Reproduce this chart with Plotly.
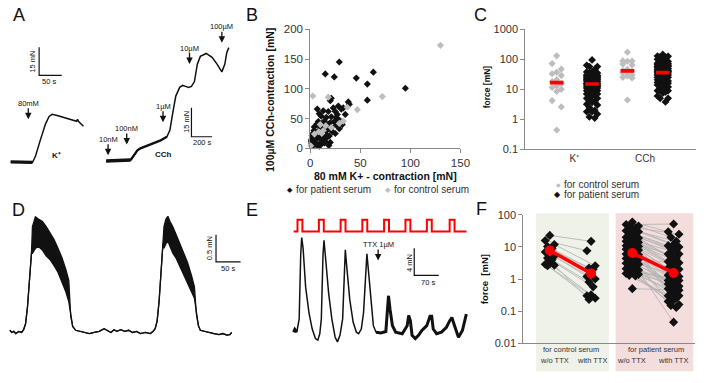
import numpy as np
import plotly.graph_objects as go

W, H = 708, 383
FONT = "Liberation Sans, Arial, Helvetica, sans-serif"
AXC = "#8a8a8a"
TXC = "#333333"
GRAY = "#bdbdbd"
RED = "#ff0000"
BLACK = "#111111"

# ======================= DATA =======================
# --- A: isometric force traces (time [s], force [mN]) ---
a_k_t = [17, 65, 67, 72, 83, 94, 102, 109, 120, 141, 163, 165, 167, 178]
a_k_f = [4.7, 4.4, 5.2, 7.8, 16.6, 24.9, 29.0, 30.1, 29.5, 28.0, 26.4, 27.5, 26.4, 23.8]
a_cch_t = [48, 286, 314, 352, 381, 476, 571, 638, 667, 695, 724, 762, 790, 819, 848,
           876, 905, 933, 962, 1019, 1076, 1124, 1171, 1200, 1219, 1238]
a_cch_f = [5, 5.5, 7.5, 10.5, 11.5, 13.5, 15.5, 17.5, 21, 30, 38.5, 43, 44, 43.5, 43,
           43.5, 46, 55, 59, 60.5, 58.5, 55, 51, 55, 61, 63.5]
a_k_dose = ["80mM"]
a_k_dose_t = [56]
a_k_dose_f = [27.5]
a_cch_dose = ["10nM", "100nM", "1µM", "10µM", "100µM"]
a_cch_dose_t = [67, 248, 600, 857, 1171]
a_cch_dose_f = [8, 13.5, 25, 55, 66]

# --- B / C: contraction amplitudes [mN] (80 mM K+, 100 µM CCh) ---
pat_k = [29, 15, 24, 46, 63, 57, 57, 95, 38, 39, 35, 33, 28, 20, 21, 13, 7, 9, 11, 31,
         23, 18, 25, 16, 21, 26, 28, 30, 24, 20, 32, 29, 26, 18, 21, 6.6, 4, 10, 3.7, 8.5,
         12.7, 15, 10, 5, 1.8, 6.6, 11.4, 16, 1.2, 5, 10, 15, 20, 3, 11, 18.5, 1.1, 1.8, 13.5, 17,
         8, 12, 14, 22, 25, 7, 9, 1.5, 2, 13, 4.5, 6, 9, 19, 27, 16, 12, 3.2, 2.5, 14]
pat_cch = [145, 125, 120, 118, 128, 108, 81, 101, 78, 74, 57, 68, 71, 80, 84, 63, 66, 58, 54, 66,
           68, 62, 62, 52, 53, 52, 49, 46, 45, 43, 40, 33, 39, 41, 35, 41, 36, 36, 30, 30,
           30, 25, 23, 23, 17, 16, 16, 17, 11, 9, 9, 11, 10, 5, 7.5, 5, 14, 22, 35, 31,
           45, 40, 46, 28, 25, 19, 27, 8, 12, 19, 14, 6, 3.8, 21, 57, 36, 14, 26, 19, 9]
ctl_k = [130, 72, 47, 37, 33, 29, 21, 18, 15.5, 13, 11.5, 10, 8.5, 4.2, 2.6, 0.44]
ctl_cch = [173, 87, 65, 69, 46, 42, 35, 86, 38, 30, 25, 40, 28, 24, 88, 4.4]
c_categories = ["K⁺", "CCh"]

# --- D: spontaneous contractions (time [s], force [mN]; upper/lower envelope) ---
d_t = [14, 18, 22, 26, 32, 38, 42, 46, 50, 54, 58, 60, 66, 72, 80, 88, 96, 104, 112, 120,
       128, 134, 138, 142, 148, 156, 166, 176, 186, 196, 206, 212, 220, 226, 232, 240, 248, 256, 264, 272,
       280, 290, 300, 306, 310, 314, 318, 322, 326, 328, 332, 336, 340, 346, 352, 360, 368, 376, 384, 390,
       394, 398, 402, 410, 420, 430, 440, 448, 456, 462, 466]
d_upper = [0.04, 0, 0.02, -0.02, 0.02, 0, 0.05, 0.16, 0.48, 0.93, 1.46,
           1.95, 2.13, 2.09, 2.05, 1.95, 1.84, 1.71, 1.55, 1.38, 1.16, 0.96,
           0.30, 0.11, 0.04, 0.02, 0, -0.02, 0, 0.02, 0.07, 0.04, 0, 0.05, 0.02, 0.05, 0.02, 0.04,
           0, 0.02, -0.02, 0, -0.02, 0.02, 0.07, 0.21,
           0.57, 1.11, 1.64,
           1.95, 2.09, 2.14, 2.05, 1.95, 1.82, 1.64, 1.46, 1.29, 1.05, 0.84,
           0.34, 0.13, 0.04, 0.02, 0, -0.02, -0.04, -0.02, -0.05, -0.04, 0]
d_lower = [0.04, 0, 0.02, -0.02, 0.02, 0, 0.05, 0.16, 0.48, 0.93, 1.46,
           1.46, 1.55, 1.59, 1.52, 1.41, 1.34, 1.23, 1.11, 0.93, 0.75, 0.57,
           0.30, 0.11, 0.04, 0.02, 0, -0.02, 0, 0.02, 0.07, 0.04, 0, 0.05, 0.02, 0.05, 0.02, 0.04,
           0, 0.02, -0.02, 0, -0.02, 0.02, 0.07, 0.21,
           0.57, 1.11, 1.64,
           1.55, 1.64, 1.68, 1.59, 1.46, 1.38, 1.23, 1.05, 0.93, 0.75, 0.63,
           0.34, 0.13, 0.04, 0.02, 0, -0.02, -0.04, -0.02, -0.05, -0.04, 0]

# --- E: EFS-evoked contractions, TTX added (time [s], force [mN]) ---
e_t = [44.8, 48.4, 54, 60.8, 65.2, 68, 72, 79.2, 88.8, 98, 107.2, 114, 119.6, 124, 128.8, 131.6,
       135.2, 144.8, 154, 163.2, 170, 177.2, 184.8, 189.6, 192.4, 196, 205.2, 214.8, 224, 230.4,
       238, 244.4, 250, 254, 258.4, 266, 272.4, 280, 294, 308, 310.8, 315.6, 320, 326.8, 336,
       354.8, 368.8, 373.2, 378, 382.8, 392, 401.2, 410.8, 424.8, 434, 438.8, 443.2, 452.8,
       466.8, 480.8, 490, 496.4, 504, 515.2, 526.4, 537.6]
e_f = [0.04, 0.43, 0.04, 2.0, 11.5, 14.0, 12.4, 6.7, 2.9, 0.5, -0.9, -1.14, -0.19, 2.0, 11.5, 13.6,
       11.5, 5.8, 2.0, -0.67, -1.39, -0.43, 2.0, 9.1, 12.2, 10.0, 4.8, 1.5, 0.04, -0.19,
       0.5, 2.9, 9.1, 11.6, 9.1, 4.3, 1.0, 0.04, -0.07, 0.14, 2.0, 5.4, 3.4, 1.0, 0.04,
       -0.19, 1.0, 2.5, 1.7, -0.43, -0.9, -0.43, 0.29, 1.0, 2.4, 2.4, 0.5, -0.19,
       0.04, 0.76, 1.7, 2.2, 1.0, -0.71, 0.29, 2.7]
e_ttx_t = 286
e_ttx_f = 10.6
e_stim_on = [56, 117, 179, 241, 303, 364, 425, 490]
e_stim_width = 14
e_stim_start, e_stim_end = 45, 538

# --- F: EFS force [mN] without / with TTX ---
f_ctl_wo = [23, 16, 12, 10.3, 9, 8, 7, 5.2, 4.5, 4, 3, 2.9, 2.7, 2.6]
f_ctl_with = [15, 7.6, 2.6, 2.2, 1.4, 2.0, 1.0, 1.2, 0.57, 0.8, 0.32, 0.25, 0.23, 0.3]
f_pat_wo = [60, 50, 45, 42, 40, 35, 32, 30, 28, 25, 22, 20, 19, 18, 17, 16, 15, 14, 13, 12,
            11.5, 11, 10.5, 10, 9.5, 9, 8.5, 8, 7.5, 7, 6.5, 6, 5.7, 5.4, 5, 4.7, 4.4, 4.1, 3.8, 3.5,
            3.3, 3.1, 2.9, 2.7, 2.5, 2.3, 2.1, 1.9, 1.8, 1.7, 1.6, 1.5, 1.4, 1.3, 1.25, 0.5]
f_pat_with = [30, 52, 20, 12, 25, 10, 8, 15, 6, 11, 9, 5, 3.2, 7, 4.5, 2.5, 6, 3.5, 2, 4,
              1.8, 1.2, 3, 0.9, 1.5, 0.7, 2.2, 1.0, 0.6, 0.5, 1.3, 0.8, 0.4, 2.8, 0.35, 1.1, 0.3, 0.25, 0.6, 0.2,
              0.9, 0.15, 1.4, 0.5, 0.045, 0.7, 0.3, 0.8, 0.13, 1.0, 0.4, 0.22, 0.6, 0.28, 0.16, 0.45]
f_ctl_mean = [7.8, 1.5]
f_pat_mean = [6.5, 1.55]
f_groups = ["for control serum", "for patient serum"]
f_conditions = ["w/o TTX", "with TTX"]

# scale bars: (x anchor, y anchor, x length, y length, x label, y label)
a_k_bar = (80, 51, 50, 15, "50 s", "15 mN")
a_cch_bar = (876, 17.5, 200, 15, "200 s", "15 mN")
d_bar = (434, 1.30, 50, 0.5, "50 s", "0.5 mN")
e_bar = (389, 8.43, 70, 4, "70 s", "4 mN")

# ======================= HELPERS =======================
def fx(px):
    return px / W


def fy(py):
    return 1 - py / H


def spread(vals, width, pattern=(0.0, -1.0, 1.0, -0.5, 0.5)):
    order = np.argsort(vals)[::-1]
    off = np.zeros(len(vals))
    for rank, idx in enumerate(order):
        off[idx] = pattern[rank % len(pattern)] * width
    return off


fig = go.Figure()


def line(x, y, ax, color=BLACK, width=1.4, **kw):
    fig.add_trace(go.Scatter(x=x, y=y, xaxis="x" + ax, yaxis="y" + ax, mode="lines",
                             line=dict(color=color, width=width), hoverinfo="skip",
                             showlegend=False, **kw))


def bar(b, ax):
    x0, y0, lx, ly, _, _ = b
    line([x0, x0, x0 + lx], [y0 + ly, y0, y0], ax, width=1.2)


# ---- A ----
line(a_k_t, a_k_f, "4", width=1.5)
line(a_k_t[:2], a_k_f[:2], "4", width=3.2)
line(a_cch_t, a_cch_f, "5", width=1.5)
line(a_cch_t[:2], a_cch_f[:2], "5", width=3.4)
line(a_cch_t[1:8], a_cch_f[1:8], "5", width=2.3)
bar(a_k_bar, "4")
bar(a_cch_bar, "5")

# ---- B ----
fig.add_trace(go.Scatter(x=pat_k, y=pat_cch, mode="markers", xaxis="x", yaxis="y",
                         marker=dict(symbol="diamond", size=5.5, color=BLACK),
                         cliponaxis=False, showlegend=False, name="for patient serum"))
fig.add_trace(go.Scatter(x=ctl_k, y=ctl_cch, mode="markers", xaxis="x", yaxis="y",
                         marker=dict(symbol="diamond", size=5.5, color=GRAY),
                         cliponaxis=False, showlegend=False, name="for control serum"))

# ---- C ----
c_sets = [(1, ctl_k, GRAY, 5.5, 0.13, (0.0, -1.0, 1.0)),
          (2, pat_k, BLACK, 6, 0.15, (0.0, -1.0, 1.0, -0.5, 0.5)),
          (3, ctl_cch, GRAY, 5.5, 0.13, (0.0, -1.0, 1.0)),
          (4, pat_cch, BLACK, 6, 0.15, (0.0, -1.0, 1.0, -0.5, 0.5))]
for pos, vals, col, sz, wd, pat in c_sets:
    xs = pos + spread(vals, wd, pat)
    fig.add_trace(go.Scatter(x=xs, y=vals, mode="markers", xaxis="x2", yaxis="y2",
                             marker=dict(symbol="diamond", size=sz, color=col),
                             cliponaxis=False, showlegend=False))
for pos, vals, *_ in c_sets:
    m = float(np.median(vals))
    line([pos - 0.19, pos + 0.19], [m, m], "2", color=RED, width=3.6)

# ---- D ----
line(d_t, d_lower, "6", width=1.3)
fig.add_trace(go.Scatter(x=d_t, y=d_upper, xaxis="x6", yaxis="y6", mode="lines",
                         line=dict(color=BLACK, width=1.3), fill="tonexty",
                         fillcolor=BLACK, hoverinfo="skip", showlegend=False))
bar(d_bar, "6")

# ---- E ----
sx, sy = [e_stim_start], [0]
for on in e_stim_on:
    sx += [on, on, on + e_stim_width, on + e_stim_width]
    sy += [0, 1, 1, 0]
sx.append(e_stim_end)
sy.append(0)
line(sx, sy, "8", color=RED, width=2)
line(e_t, e_f, "7", width=1.5)
k0 = e_t.index(280)
line(e_t[k0:], e_f[k0:], "7", width=3.0)
line(e_t[:3], e_f[:3], "7", width=3.0)
bar(e_bar, "7")

# ---- F ----
xcw = 1 + spread(f_ctl_wo, 0.11)
xct = 2 + spread(f_ctl_with, 0.1)
xpw = 3 + spread(f_pat_wo, 0.15)
xpt = 4 + spread(f_pat_with, 0.13)
gx, gy = [], []
for a, b, ya, yb in list(zip(xcw, xct, f_ctl_wo, f_ctl_with)) + list(zip(xpw, xpt, f_pat_wo, f_pat_with)):
    gx += [a, b, None]
    gy += [ya, yb, None]
fig.add_trace(go.Scatter(x=gx, y=gy, mode="lines", xaxis="x3", yaxis="y3",
                         line=dict(color="#b5b5b5", width=0.9), hoverinfo="skip", showlegend=False))
for xs, ys in [(xcw, f_ctl_wo), (xct, f_ctl_with), (xpw, f_pat_wo), (xpt, f_pat_with)]:
    fig.add_trace(go.Scatter(x=xs, y=ys, mode="markers", xaxis="x3", yaxis="y3",
                             marker=dict(symbol="diamond", size=7, color=BLACK),
                             cliponaxis=False, showlegend=False))
for xs, ys in [([1, 2], f_ctl_mean), ([3, 4], f_pat_mean)]:
    fig.add_trace(go.Scatter(x=xs, y=ys, mode="lines+markers", xaxis="x3", yaxis="y3",
                             line=dict(color=RED, width=3.5),
                             marker=dict(symbol="circle", size=10, color=RED),
                             cliponaxis=False, showlegend=False))

# ======================= AXES =======================
def hidden(px0, px1, pytop, pybot, xr, yr, n):
    return {
        f"xaxis{n}": dict(domain=[fx(px0), fx(px1)], range=xr, visible=False, anchor=f"y{n}", fixedrange=True),
        f"yaxis{n}": dict(domain=[fy(pybot), fy(pytop)], range=yr, visible=False, anchor=f"x{n}", fixedrange=True),
    }


def vis_axis(**kw):
    d = dict(showline=True, linecolor=AXC, linewidth=1, showgrid=False, zeroline=False,
             ticks="outside", ticklen=4, tickcolor=AXC, tickwidth=1,
             tickfont=dict(family=FONT, size=11, color=TXC), fixedrange=True)
    d.update(kw)
    return d


layout = dict(
    width=W, height=H, autosize=False,
    margin=dict(l=0, r=0, t=0, b=0, pad=0),
    paper_bgcolor="white", plot_bgcolor="rgba(0,0,0,0)",
    font=dict(family=FONT, color=BLACK),
    showlegend=False,
    xaxis=vis_axis(domain=[fx(313), fx(466)], range=[0, 150], tickvals=[0, 50, 100, 150],
                   anchor="y", tickfont=dict(family=FONT, size=11.5, color=TXC)),
    yaxis=vis_axis(domain=[fy(147), fy(24)], range=[0, 200], tickvals=[0, 50, 100, 150, 200],
                   anchor="x", tickfont=dict(family=FONT, size=11.5, color=TXC)),
    xaxis2=vis_axis(domain=[fx(532), fx(706)], range=[0.11, 4.94], tickvals=[1.5, 3.5],
                    ticktext=c_categories, ticks="", anchor="y2",
                    tickfont=dict(family=FONT, size=10, color=TXC)),
    yaxis2=vis_axis(domain=[fy(148), fy(24)], type="log", range=[-1, 3],
                    tickvals=[0.1, 1, 10, 100, 1000], ticktext=["0.1", "1", "10", "100", "1000"],
                    anchor="x2"),
    xaxis3=vis_axis(domain=[fx(530), fx(705)], range=[0.357, 4.52], showticklabels=False,
                    ticks="", anchor="y3"),
    yaxis3=vis_axis(domain=[fy(348), fy(215.7)], type="log", range=[-2, 2],
                    tickvals=[0.01, 0.1, 1, 10, 100], ticktext=["0.01", "0.1", "1", "10", "100"],
                    anchor="x3"),
)
layout.update(hidden(0, 95, 20, 170, [0, 206.5], [0, 77.7], 4))
layout.update(hidden(100, 240, 20, 170, [0, 1333.3], [0, 75], 5))
layout.update(hidden(0, 245, 205, 350, [0, 490], [-0.232, 2.357], 6))
layout.update(hidden(280, 480, 205, 355, [0, 560], [-2.571, 18.857], 7))
layout.update(hidden(280, 480, 218.3, 235.1, [0, 560], [-0.2, 1.2], 8))

# F background panels
layout["shapes"] = [
    dict(type="rect", xref="x3", yref="paper", x0=0.667, x1=2.43, y0=fy(377), y1=fy(214),
         fillcolor="#eff2e8", line=dict(width=0), layer="below"),
    dict(type="rect", xref="x3", yref="paper", x0=2.595, x1=4.476, y0=fy(377), y1=fy(214),
         fillcolor="#f4dddd", line=dict(width=0), layer="below"),
]

# ======================= TEXT =======================
ann = []


def txt(x, y, s, size=8, bold=False, angle=0, xanchor="center", color=BLACK):
    ann.append(dict(x=fx(x), y=fy(y), xref="paper", yref="paper",
                    text=f"<b>{s}</b>" if bold else s, showarrow=False,
                    font=dict(family=FONT, size=size, color=color), textangle=angle,
                    xanchor=xanchor, yanchor="middle", borderpad=0))


def arrow(x, y, s, ax):
    ann.append(dict(x=x, y=y, xref="x" + ax, yref="y" + ax, text=s, showarrow=True,
                    arrowhead=2, arrowsize=1, arrowwidth=1.3, arrowcolor=BLACK,
                    ax=0, ay=-16, standoff=0, borderpad=0,
                    font=dict(family=FONT, size=7.5, color=BLACK)))


for lab, (x, y) in {"A": (16, 9), "B": (254, 9), "C": (486, 9),
                    "D": (16, 211), "E": (254, 211), "F": (487, 210)}.items():
    txt(x, y, lab, size=18)

# A
for s, t, f in zip(a_k_dose, a_k_dose_t, a_k_dose_f):
    arrow(t, f, s, "4")
for s, t, f in zip(a_cch_dose, a_cch_dose_t, a_cch_dose_f):
    arrow(t, f, s, "5")
txt(55, 154, "K⁺", size=8, bold=True)
txt(163, 153, "CCh", size=8, bold=True)
txt(30, 57, a_k_bar[5], size=7.5, angle=-90)
txt(47, 78, a_k_bar[4], size=7.5)
txt(187, 120, a_cch_bar[5], size=7.5, angle=-90)
txt(203, 141, a_cch_bar[4], size=7.5)

# B
txt(272, 97, "100µM CCh-contraction [mN]", size=10.5, bold=True, angle=-90)
txt(390, 175, "80 mM K+ - contraction [mN]", size=10.5, bold=True)
txt(292, 189.5, "◆", size=7, color=BLACK)
txt(297, 189.5, "for patient serum", size=10, xanchor="left", color=TXC)
txt(392, 189.5, "◆", size=7, color=GRAY)
txt(397, 189.5, "for control serum", size=10, xanchor="left", color=TXC)

# C
txt(493, 83, "force [mN]", size=8.5, bold=True, angle=-90)
txt(566, 184.3, "◆", size=6, color=GRAY)
txt(570, 184.3, "for control serum", size=10, xanchor="left", color=TXC)
txt(565, 195, "◆", size=7.5, color=BLACK)
txt(570, 195, "for patient serum", size=10, xanchor="left", color=TXC)

# D
txt(210, 250, d_bar[5], size=7.5, angle=-90)
txt(229, 271, d_bar[4], size=7.5)

# E
arrow(e_ttx_t, e_ttx_f, "TTX 1µM", "7")
txt(414, 265, e_bar[5], size=7.5, angle=-90)
txt(433, 285, e_bar[4], size=7.5)

# F
txt(490, 282, "force  [mN]", size=9.5, bold=True, angle=-90)
txt(579, 355, f_groups[0], size=7.5, color=TXC)
txt(665, 355, f_groups[1], size=7.5, color=TXC)
for x, s in [(562, f_conditions[0]), (600, f_conditions[1]),
             (640, f_conditions[0]), (683, f_conditions[1])]:
    txt(x, 365.5, s, size=7.5, color=TXC)

layout["annotations"] = ann
fig.update_layout(**layout)
fig.write_html("out.html", config={"displayModeBar": False},
               post_script="document.body.style.margin='0';document.body.style.padding='0';")
